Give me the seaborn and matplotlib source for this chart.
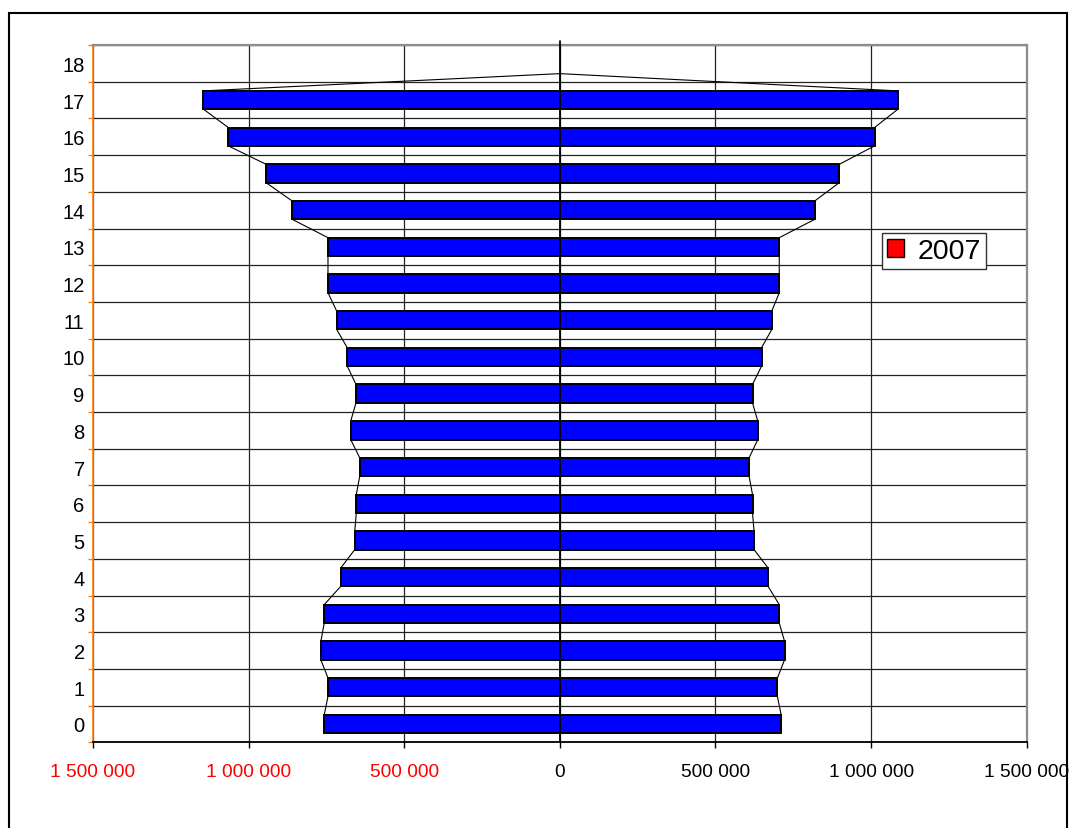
import matplotlib
matplotlib.use("Agg")
import matplotlib.pyplot as plt
from matplotlib.patches import Patch, Rectangle
import numpy as np
import pandas as pd
import seaborn as sns

# age groups 0..17 (18 is an empty top row)
ages = list(range(18))
left_side = [757000, 745000, 768000, 757000, 704000, 659000, 654000, 643000, 672000,
             655000, 683000, 717000, 745000, 745000, 860000, 944000, 1065000, 1145000]
right_side = [711000, 699000, 722000, 705000, 669000, 624000, 619000, 608000, 636000,
              619000, 648000, 681000, 705000, 705000, 819000, 898000, 1011000, 1086000]
row_labels = [str(i) for i in range(19)]
x_ticks = [-1500000, -1000000, -500000, 0, 500000, 1000000, 1500000]
legend_label = "2007"
apex_age = 17.72  # top point of the outline

sns.set_theme(style="white", rc={"text.color": "black", "xtick.color": "black",
                                 "ytick.color": "black"})
plt.rcParams["font.family"] = ["Liberation Sans", "DejaVu Sans"]

df = pd.DataFrame({"age": ages, "left": -np.array(left_side), "right": np.array(right_side)})

fig = plt.figure(figsize=(10.72, 8.29), dpi=100)
ax = fig.add_axes([93 / 1072, 1 - 743.3 / 829, (1026.7 - 93) / 1072, (743.3 - 46) / 829])

bar_h = 0.5
for col in ["left", "right"]:
    sns.barplot(data=df, x=col, y="age", orient="y", native_scale=True, width=bar_h,
                color="#0000FF", saturation=1, edgecolor="black", linewidth=1.4,
                ax=ax, zorder=3)

# outline connecting bar ends
half = bar_h / 2
for sign, vals in [(-1, left_side), (1, right_side)]:
    xs, ys = [0], [apex_age]
    for a in reversed(ages):
        xs += [sign * vals[a], sign * vals[a]]
        ys += [a + half, a - half]
    ax.plot(xs, ys, color="black", lw=0.8, zorder=2)

ax.set_xlim(-1500000, 1500000)
ax.set_ylim(-0.5, 18.5)

# ticks and grid
ax.set_xticks(x_ticks)
ax.set_xticklabels([f"{abs(v):,}".replace(",", " ") for v in x_ticks])
for lab, v in zip(ax.get_xticklabels(), x_ticks):
    lab.set_color("#FF0000" if v < 0 else "black")
ax.tick_params(axis="x", direction="out", length=4.3, width=1, color="black",
               labelsize=13.8, pad=10.5, bottom=True)

ax.set_yticks(range(19))
ax.set_yticklabels(row_labels)
ax.set_yticks(np.arange(-0.5, 18.6, 1), minor=True)
ax.tick_params(axis="y", which="major", length=0, labelsize=14.5, pad=6, labelcolor="black")
ax.tick_params(axis="y", which="minor", direction="out", length=3.6, width=1,
               color="#FF8000", left=True)
ax.set_ylabel("")
ax.set_xlabel("")

ax.set_axisbelow(True)
ax.grid(True, axis="x", which="major", color="#222222", lw=0.9)
ax.grid(True, axis="y", which="minor", color="#222222", lw=0.9)
ax.grid(False, axis="y", which="major")

ax.plot([0, 0], [-0.5, 18.6], color="black", lw=1.3, clip_on=False, zorder=4)

ax.spines["left"].set_color("#FF8000")
ax.spines["left"].set_linewidth(1.2)
ax.spines["bottom"].set_color("black")
ax.spines["bottom"].set_linewidth(1.3)
for s in ["top", "right"]:
    ax.spines[s].set_color("#8C8C8C")
    ax.spines[s].set_linewidth(1.6)
    ax.spines[s].set_visible(True)

leg = ax.legend(handles=[Patch(facecolor="#FF0000", edgecolor="black", lw=1)],
                labels=[legend_label], loc="upper left", bbox_to_anchor=(0.8447, 0.7304),
                borderaxespad=0, fontsize=20.5, handlelength=0.62, handleheight=0.6,
                handletextpad=0.45, borderpad=0.18, fancybox=False, framealpha=1,
                edgecolor="#333333")
leg.get_frame().set_linewidth(1)
leg.set_zorder(6)

# outer chart border
fig.patches.append(Rectangle((9 / 1072, -0.02), (1067 - 9) / 1072, 1.02 - 14 / 829,
                             transform=fig.transFigure, fill=False, edgecolor="black",
                             lw=1.5, zorder=0))

fig.savefig("out.png", dpi=100)
